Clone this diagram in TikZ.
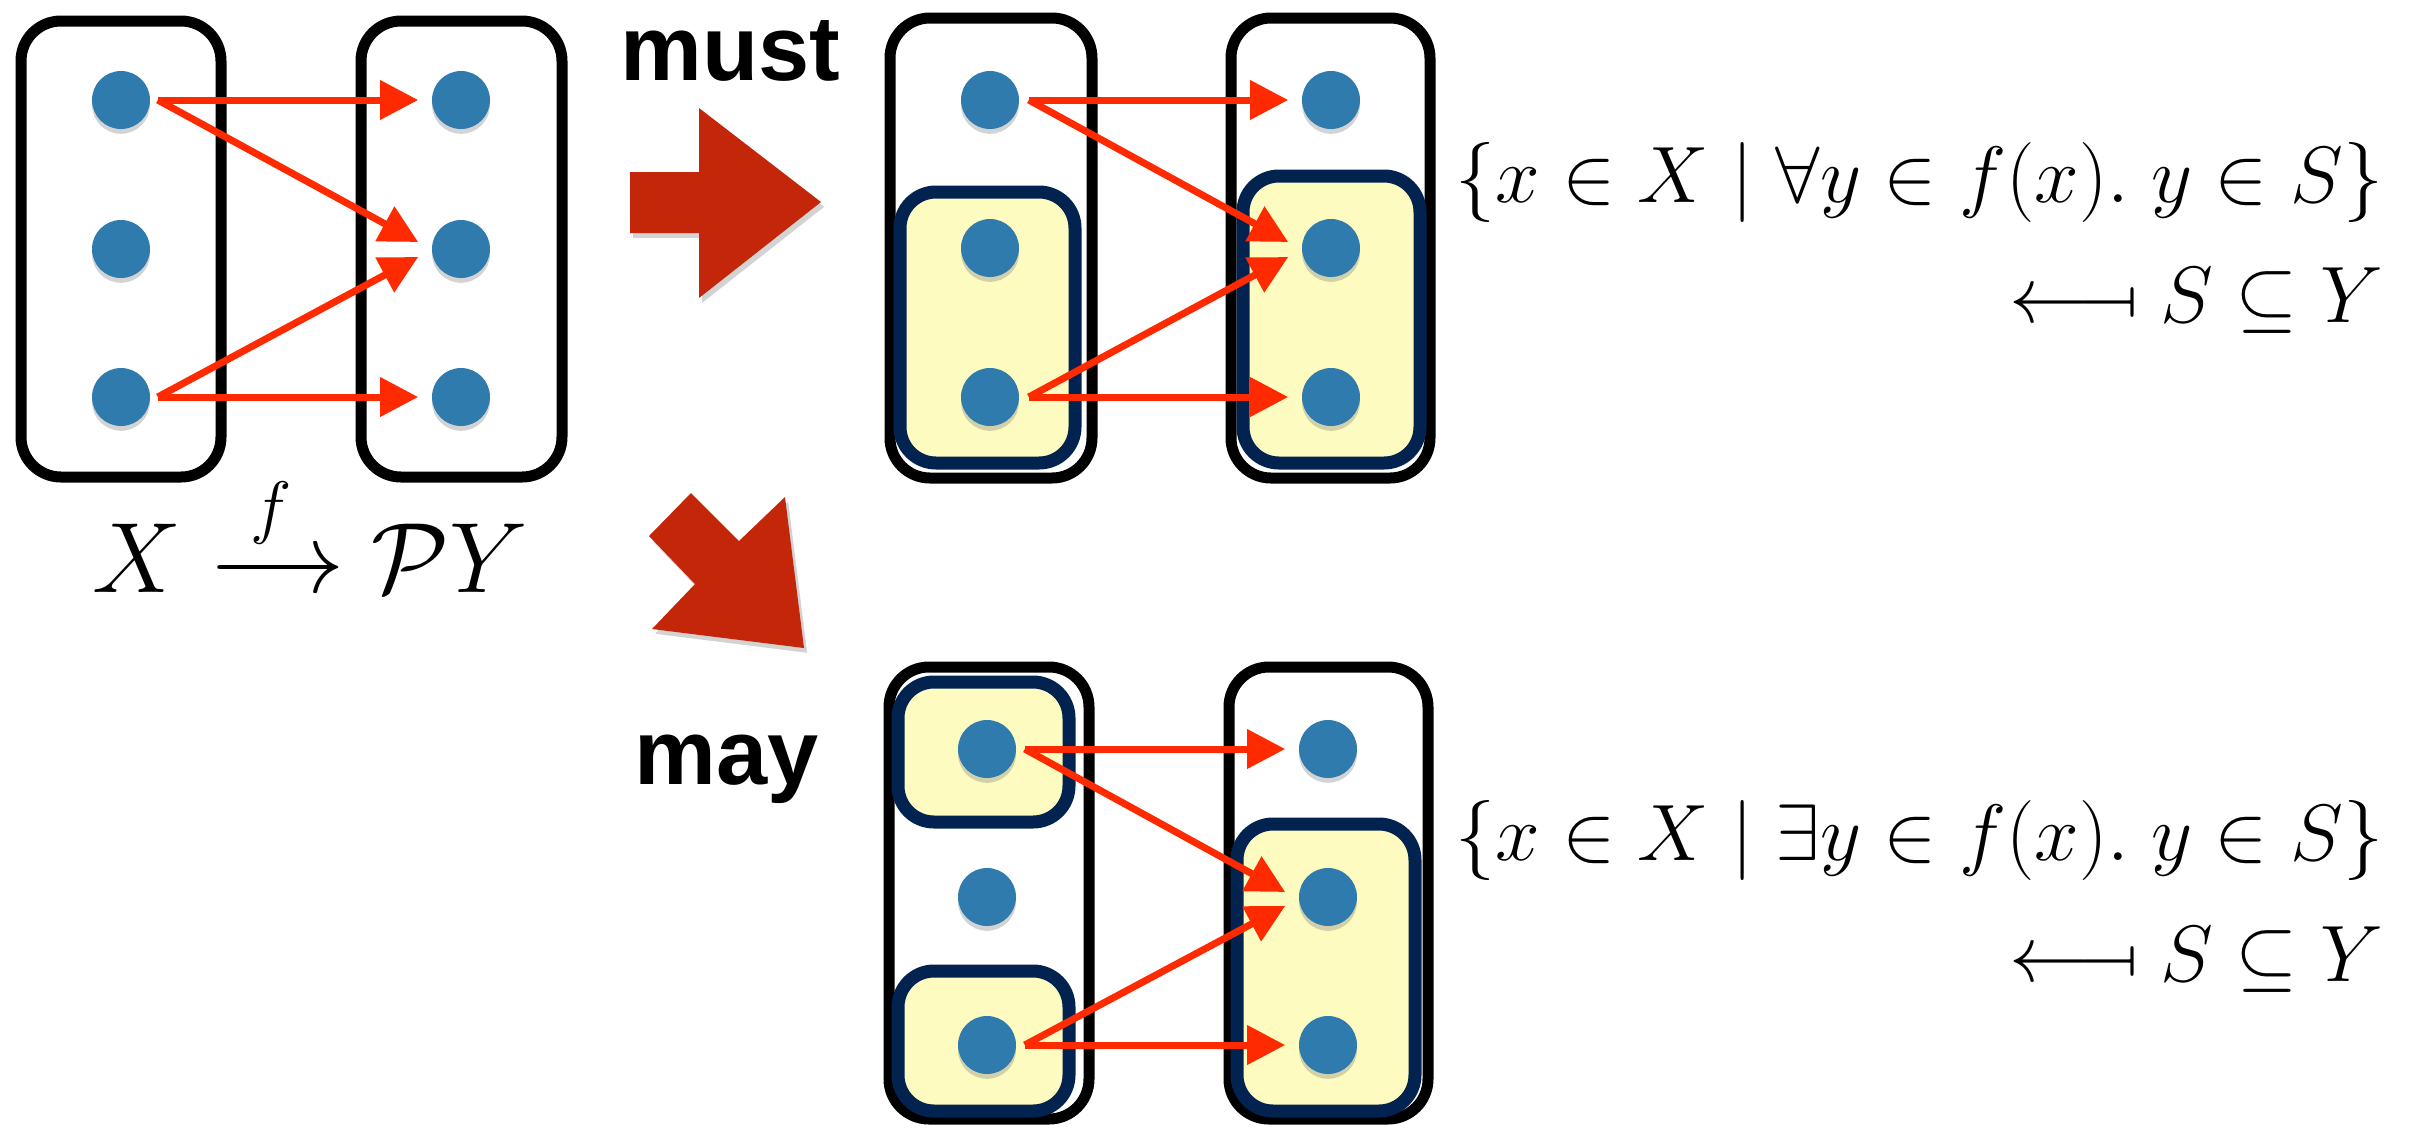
\RequirePackage{fix-cm}
\documentclass[tikz,border=0pt]{standalone}
\usepackage{amsmath}
\usepackage{fontspec}
\newfontfamily\hv{Liberation Sans}
\usetikzlibrary{arrows.meta,calc,shadows}
\definecolor{dotblue}{HTML}{2F7BAE}
\definecolor{arrred}{HTML}{FF2A00}
\definecolor{bigred}{HTML}{C4260A}
\definecolor{navy}{HTML}{02234F}
\definecolor{pale}{HTML}{FDFBBF}
\begin{document}
\begin{tikzpicture}[x=0.25pt,y=-0.25pt,
  dot/.style={circle,fill=dotblue,minimum size=14.5pt,inner sep=0pt,
    drop shadow={shadow xshift=0pt,shadow yshift=-1.2pt,opacity=0.35}},
  outerbox/.style={draw=black,line width=2.75pt,rounded corners=10pt},
  subsetbox/.style={draw=navy,fill=pale,line width=3.25pt,rounded corners=9pt},
  map/.style={draw=arrred,line width=1.75pt,-{Triangle[length=9.5pt,width=9.5pt]}},
  bigarrow/.style={fill=bigred,drop shadow={shadow xshift=0.8pt,shadow yshift=-1.2pt,opacity=0.35}},
  word/.style={font=\hv\bfseries\fontsize{23}{27}\selectfont,anchor=base west,inner sep=0pt},
  formula/.style={font=\fontsize{20}{24}\selectfont,anchor=base east,inner sep=0pt}]
\useasboundingbox (0,0) rectangle (2414,1127);

% ---------- left panel ----------
\draw[outerbox] (21,21) rectangle (221,477);
\draw[outerbox] (361,21) rectangle (562,477);
\node[dot] (pa1) at (121,100) {};
\node[dot] (pa2) at (121,249) {};
\node[dot] (pa3) at (121,397) {};
\node[dot] (pb1) at (461,100) {};
\node[dot] (pb2) at (461,249) {};
\node[dot] (pb3) at (461,397) {};
\draw[map] ($(pa1.east)+(7,0)$) -- ($(pb1.west)+(-13,0)$);
\draw[map] ($(pa1.east)+(7,0)$) -- ($(pb2.west)+(-13,-7)$);
\draw[map] ($(pa3.east)+(7,0)$) -- ($(pb2.west)+(-13,8)$);
\draw[map] ($(pa3.east)+(7,0)$) -- ($(pb3.west)+(-13,0)$);
\node[anchor=base west,inner sep=0pt,font=\fontsize{25}{29}\selectfont] (lab) at (92,592)
  {$X \xrightarrow{\;f\;} \mathcal{P}Y$};

% ---------- big arrows ----------
\path[bigarrow] (630,172) -- (699,172) -- (699,108) -- (821,202) -- (699,298)
  -- (699,233) -- (630,233) -- cycle;
\path[bigarrow] (691,493) -- (739,541) -- (785,497) -- (804,648) -- (652,629)
  -- (695,584) -- (649,536) -- cycle;
\node[word] (must) at (620,80) {must};
\node[word] (may) at (634,784) {may};

% ---------- must panel ----------
\draw[outerbox] (890,18) rectangle (1092,478);
\draw[outerbox] (1231,18) rectangle (1430,478);
\draw[subsetbox] (900,192) rectangle (1075,463);
\draw[subsetbox] (1243,176) rectangle (1420,463);
\node[dot] (ma1) at (990,100) {};
\node[dot] (ma2) at (990,248) {};
\node[dot] (ma3) at (990,397) {};
\node[dot] (mb1) at (1331,100) {};
\node[dot] (mb2) at (1331,248) {};
\node[dot] (mb3) at (1331,397) {};
\draw[map] ($(ma1.east)+(9,0)$) -- ($(mb1.west)+(-13,0)$);
\draw[map] ($(ma1.east)+(9,0)$) -- ($(mb2.west)+(-13,-6)$);
\draw[map] ($(ma3.east)+(9,0)$) -- ($(mb2.west)+(-13,9)$);
\draw[map] ($(ma3.east)+(9,0)$) -- ($(mb3.west)+(-13,0)$);
\node[formula] (mustset) at (2384,202) {$\{x\in X \mid \forall y\in f(x).\; y\in S\}$};
\node[formula] (mustmap) at (2384,322) {$\mathrel{\reflectbox{$\longmapsto$}} S\subseteq Y$};

% ---------- may panel ----------
\draw[outerbox] (889,667) rectangle (1089,1119);
\draw[outerbox] (1229,667) rectangle (1428,1119);
\draw[subsetbox] (898,682) rectangle (1069,822);
\draw[subsetbox] (898,971) rectangle (1069,1111);
\draw[subsetbox] (1237,824) rectangle (1415,1111);
\node[dot] (ya1) at (987,749) {};
\node[dot] (ya2) at (987,897) {};
\node[dot] (ya3) at (987,1045) {};
\node[dot] (yb1) at (1328,749) {};
\node[dot] (yb2) at (1328,897) {};
\node[dot] (yb3) at (1328,1045) {};
\draw[map] ($(ya1.east)+(8,0)$) -- ($(yb1.west)+(-13,0)$);
\draw[map] ($(ya1.east)+(8,0)$) -- ($(yb2.west)+(-13,-5)$);
\draw[map] ($(ya3.east)+(8,0)$) -- ($(yb2.west)+(-13,9)$);
\draw[map] ($(ya3.east)+(8,0)$) -- ($(yb3.west)+(-13,0)$);
\node[formula] (mayset) at (2384,860) {$\{x\in X \mid \exists y\in f(x).\; y\in S\}$};
\node[formula] (maymap) at (2384,981) {$\mathrel{\reflectbox{$\longmapsto$}} S\subseteq Y$};
\end{tikzpicture}
\end{document}
